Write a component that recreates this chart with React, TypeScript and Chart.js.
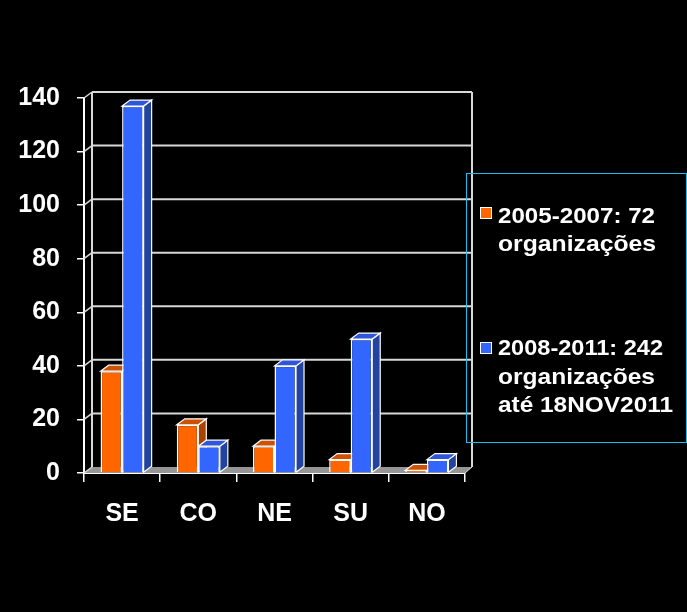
import React, { useEffect, useRef } from 'react';
import { Chart, registerables } from 'chart.js';

Chart.register(...registerables);

// ---- data ----
const CATEGORIES = ['SE', 'CO', 'NE', 'SU', 'NO'];
const SERIES_A_NAME = '2005-2007';
const SERIES_A = [38, 18, 10, 5, 1];
const SERIES_B_NAME = '2008-2011';
const SERIES_B = [137, 10, 40, 50, 5];
const Y_MIN = 0;
const Y_MAX = 140;
const Y_STEP = 20;
const LEGEND_A = ['2005-2007: 72', 'organizações'];
const LEGEND_B = ['2008-2011: 242', 'organizações', 'até 18NOV2011'];

// ---- styles ----
const FONT = '"Liberation Sans", Arial, Helvetica, sans-serif';
const ORANGE = { front: '#FF6600', top: '#CC5200', side: '#A84300' };
const BLUE = { front: '#3366FF', top: '#2F56D8', side: '#23449E' };
const DX = 7;
const DY = -6;
const GRID = '#D8D8D8';
const FLOOR = '#969696';
const W = 687;
const H = 612;

export default function App() {
  const ref = useRef<HTMLCanvasElement | null>(null);

  useEffect(() => {
    document.body.style.margin = '0';
    document.body.style.background = '#000';
    const canvas = ref.current;
    if (!canvas) return;

    const poly = (ctx: CanvasRenderingContext2D, pts: number[][], fill: string) => {
      ctx.beginPath();
      ctx.moveTo(pts[0][0], pts[0][1]);
      for (let i = 1; i < pts.length; i++) ctx.lineTo(pts[i][0], pts[i][1]);
      ctx.closePath();
      ctx.fillStyle = fill;
      ctx.fill();
      ctx.strokeStyle = '#FFFFFF';
      ctx.lineWidth = 1.2;
      ctx.stroke();
    };

    const threeD = {
      id: 'threeD',
      beforeDatasetsDraw(chart: any) {
        const ctx: CanvasRenderingContext2D = chart.ctx;
        const { left, right, top, bottom } = chart.chartArea;
        const ys = chart.scales.y;
        ctx.save();
        // floor
        ctx.beginPath();
        ctx.moveTo(left, bottom);
        ctx.lineTo(right, bottom);
        ctx.lineTo(right + DX, bottom + DY);
        ctx.lineTo(left + DX + 1, bottom + DY);
        ctx.closePath();
        ctx.fillStyle = FLOOR;
        ctx.fill();
        ctx.strokeStyle = GRID;
        ctx.lineWidth = 1;
        ctx.beginPath();
        ctx.moveTo(right, bottom);
        ctx.lineTo(right + DX, bottom + DY);
        ctx.stroke();
        // back wall gridlines + left wall connectors
        ctx.strokeStyle = GRID;
        ctx.lineWidth = 2;
        for (let v = Y_MIN + Y_STEP; v <= Y_MAX; v += Y_STEP) {
          const y = ys.getPixelForValue(v);
          ctx.beginPath();
          ctx.moveTo(left + DX + 1, y + DY);
          ctx.lineTo(right + DX, y + DY);
          ctx.stroke();
        }
        ctx.lineWidth = 1.5;
        for (let v = Y_MIN; v <= Y_MAX; v += Y_STEP) {
          const y = ys.getPixelForValue(v);
          ctx.beginPath();
          ctx.moveTo(left, y);
          ctx.lineTo(left + DX + 1, y + DY);
          ctx.stroke();
        }
        // back verticals
        ctx.lineWidth = 2;
        ctx.beginPath();
        ctx.moveTo(left + DX + 1, top + DY);
        ctx.lineTo(left + DX + 1, bottom + DY);
        ctx.moveTo(right + DX, top + DY);
        ctx.lineTo(right + DX, bottom + DY);
        ctx.stroke();

        // bar tops & sides
        const n = CATEGORIES.length;
        const metas = [chart.getDatasetMeta(0), chart.getDatasetMeta(1)];
        const cols = [ORANGE, BLUE];
        for (let i = 0; i < n; i++) {
          metas.forEach((meta, d) => {
            const el = meta.data[i];
            if (!el) return;
            const { x, y, base, width } = el.getProps(['x', 'y', 'base', 'width'], true);
            const l = x - width / 2;
            const r = x + width / 2;
            poly(ctx, [[r, base], [r + DX + 1, base + DY], [r + DX + 1, y + DY], [r, y]], cols[d].side);
            poly(ctx, [[l, y], [l + DX + 1, y + DY], [r + DX + 1, y + DY], [r, y]], cols[d].top);
          });
        }
        ctx.restore();
      },
      afterDraw(chart: any) {
        const ctx: CanvasRenderingContext2D = chart.ctx;
        ctx.save();
        // legend box
        ctx.strokeStyle = '#1EBEF0';
        ctx.lineWidth = 1;
        ctx.strokeRect(466.5, 173.5, 220, 269);
        const entries = [
          { lines: LEGEND_A, color: ORANGE.front, sq: 207, base: 222.5, widths: [157, 158] },
          { lines: LEGEND_B, color: BLUE.front, sq: 342, base: 355, widths: [165, 157, 175] },
        ];
        ctx.font = `bold 22px ${FONT}`;
        ctx.textBaseline = 'alphabetic';
        ctx.textAlign = 'left';
        entries.forEach((e) => {
          ctx.fillStyle = e.color;
          ctx.fillRect(480, e.sq, 12, 12);
          ctx.strokeStyle = '#FFFFFF';
          ctx.lineWidth = 1;
          ctx.strokeRect(480.5, e.sq + 0.5, 11, 11);
          ctx.fillStyle = '#FFFFFF';
          e.lines.forEach((t, k) => {
            const m = ctx.measureText(t).width;
            const s = e.widths[k] / m;
            ctx.save();
            ctx.translate(498, e.base + k * 28.5);
            ctx.scale(s, 1);
            ctx.fillText(t, 0, 0);
            ctx.restore();
          });
        });
        ctx.restore();
      },
    };

    const chart = new Chart(canvas, {
      type: 'bar',
      data: {
        labels: CATEGORIES,
        datasets: [
          {
            label: SERIES_A_NAME,
            data: SERIES_A,
            backgroundColor: ORANGE.front,
            borderColor: '#FFFFFF',
            borderWidth: 1.5,
            categoryPercentage: 0.565,
            barPercentage: 1,
          },
          {
            label: SERIES_B_NAME,
            data: SERIES_B,
            backgroundColor: BLUE.front,
            borderColor: '#FFFFFF',
            borderWidth: 1.5,
            categoryPercentage: 0.565,
            barPercentage: 1,
          },
        ],
      },
      options: {
        responsive: false,
        animation: false,
        layout: { padding: { top: 98, right: 222, left: 0, bottom: 0 } },
        plugins: { legend: { display: false }, tooltip: { enabled: false } },
        scales: {
          x: {
            afterFit(scale: any) {
              scale.height = H - 473;
            },
            grid: {
              display: true,
              drawOnChartArea: false,
              drawTicks: true,
              tickLength: 9,
              color: '#FFFFFF',
              lineWidth: 1.5,
              offset: true,
            },
            border: { display: true, color: '#FFFFFF', width: 2 },
            ticks: {
              color: '#FFFFFF',
              padding: 17,
              font: { family: FONT, size: 25, weight: 'bold' },
            },
          },
          y: {
            min: Y_MIN,
            max: Y_MAX,
            afterFit(scale: any) {
              scale.width = 84;
            },
            grid: {
              display: true,
              drawOnChartArea: false,
              drawTicks: true,
              tickLength: 7,
              color: '#FFFFFF',
              lineWidth: 1.5,
            },
            border: { display: true, color: '#FFFFFF', width: 2 },
            ticks: {
              stepSize: Y_STEP,
              color: '#FFFFFF',
              padding: 17,
              font: { family: FONT, size: 25, weight: 'bold' },
            },
          },
        },
      },
      plugins: [threeD],
    } as any);

    return () => chart.destroy();
  }, []);

  return (
    <div style={{ position: 'absolute', left: 0, top: 0, width: W, height: H, background: '#000' }}>
      <canvas ref={ref} width={W} height={H} style={{ display: 'block', background: '#000' }} />
    </div>
  );
}
